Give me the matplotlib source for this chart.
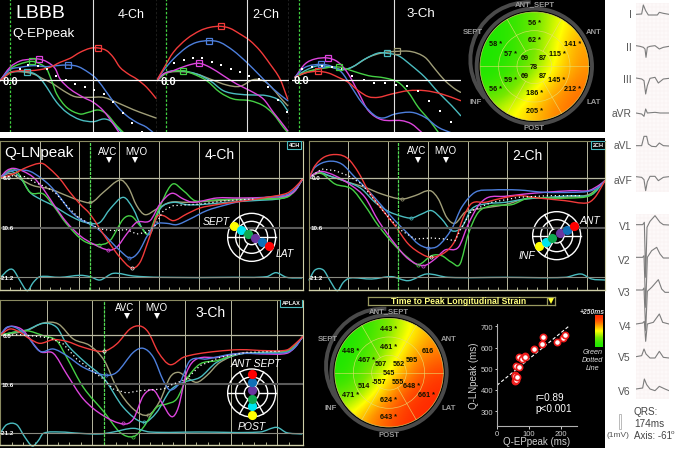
import math
import matplotlib
matplotlib.use("Agg")
import matplotlib.pyplot as plt
from matplotlib.colors import LinearSegmentedColormap
from matplotlib.patches import Circle, Arc, Rectangle, PathPatch
from matplotlib.path import Path

plt.rcParams['font.family'] = ['Liberation Sans', 'DejaVu Sans']

W, H = 677, 452

# ---------- top strain panels (positions, units: crop coordinates) ----------
a_red = [(0,245),(30,222),(60,215),(90,215),(120,212),(150,205),(180,190),(210,178),(240,160),(270,148),(295,147),(320,155),(340,175),(360,205),(385,225),(410,240),(440,265),(468,298)]
a_blue = [(0,245),(30,212),(60,205),(100,200),(140,203),(170,200),(205,198),(235,203),(265,220),(290,240),(320,280),(350,320),(380,350),(410,370),(440,385),(470,410)]
a_magenta = [(0,245),(30,205),(60,186),(90,181),(115,180),(140,188),(165,208),(180,240),(210,270),(250,295),(280,310),(310,335),(340,375),(360,405)]
a_green = [(0,245),(30,210),(60,195),(95,187),(120,195),(140,210),(155,245),(170,285),(200,325),(240,345),(265,340),(295,333),(320,345),(350,380),(375,405)]
a_teal = [(0,245),(30,222),(60,217),(85,218),(110,228),(130,250),(150,280),(170,310),(200,340),(240,362),(280,368),(310,360),(330,365),(350,385),(370,405)]
a_tan = [(0,245),(30,220),(60,218),(100,225),(130,240),(160,255),(190,275),(225,293),(270,295),(310,295),(350,310),(400,332),(440,347),(468,357)]
a_dots = [(60,210),(85,198),(115,200),(142,210),(168,230),(197,243),(226,256),(254,265),(282,273),(311,285),(340,310),(368,342),(397,372),(425,398)]
a_peaks = [(295,147,'red'),(203,198,'blue'),(116,180,'magenta'),(95,187,'green'),(82,218,'teal')]

b_red = [(470,245),(490,210),(520,160),(560,120),(600,95),(630,85),(662,82),(690,88),(720,105),(750,125),(780,155),(810,195),(840,240),(863,300)]
b_blue = [(470,245),(490,215),(520,180),(560,145),(590,130),(627,125),(660,130),(700,155),(740,190),(780,230),(820,270),(863,305)]
b_magenta = [(470,245),(490,225),(520,215),(560,200),(597,193),(630,205),(670,230),(710,255),(750,275),(790,300),(820,340),(840,365),(863,395)]
b_green = [(470,245),(500,222),(548,215),(580,225),(620,245),(660,280),(700,300),(750,305),(790,320),(820,345),(850,385),(863,400)]
b_teal = [(470,245),(500,220),(540,215),(590,225),(630,245),(670,275),(710,285),(760,288),(800,290),(840,305),(863,335)]
b_tan = [(470,245),(500,222),(545,218),(590,225),(630,240),(680,258),(720,262),(760,242),(790,245),(815,265),(840,295),(863,320)]
b_dots = [(522,192),(551,182),(579,178),(607,178),(635,188),(664,198),(692,210),(721,220),(748,230),(776,240),(805,265),(833,303),(861,340)]
b_peaks = [(662,82,'red'),(627,125,'blue'),(597,193,'magenta'),(548,215,'green')]

c_red = [(0,235),(30,222),(68,217),(100,222),(130,235),(160,250),(190,275),(220,293),(250,295),(290,285),(340,275),(390,275),(440,285),(497,305)]
c_blue = [(0,235),(30,205),(78,196),(110,202),(140,220),(170,265),(200,310),(240,350),(265,357),(300,345),(350,340),(390,355),(430,385),(470,402)]
c_magenta = [(0,235),(30,195),(60,180),(98,177),(130,190),(160,225),(190,280),(220,335),(260,362),(320,365),(350,375),(380,400)]
c_green = [(0,235),(30,220),(80,208),(131,204),(170,215),(220,230),(270,237),(310,250),(340,280),(370,325),(400,360),(430,400)]
c_teal = [(0,235),(30,215),(70,200),(110,205),(140,212),(170,205),(210,180),(250,162),(276,163),(310,170),(350,200),(390,235),(430,280),(470,320),(497,350)]
c_tan = [(0,235),(30,222),(70,210),(110,205),(140,212),(170,205),(220,175),(260,162),(306,157),(350,158),(390,175),(420,210),(450,245),(480,270),(497,280)]
c_dots = [(20,210),(50,205),(80,200),(110,203),(142,210),(172,230),(206,243),(238,252),(271,252),(304,257),(337,260),(369,276),(402,307),(435,337),(467,370)]
c_peaks = [(306,157,'tan'),(276,163,'teal'),(131,204,'green'),(98,177,'magenta'),(78,196,'blue'),(68,217,'red')]

# ---------- lower strain panels ----------
d_red = [(0,132),(40,120),(80,100),(125,88),(150,105),(180,135),(210,175),(240,210),(270,240),(300,285),(330,330),(360,370),(395,402),(420,385),(445,320),(470,250),(490,245),(520,260),(560,240),(600,222),(650,212),(700,205),(750,198),(800,190),(860,178),(885,160),(908,135)]
d_blue = [(0,132),(30,112),(60,108),(90,112),(120,130),(150,155),(180,190),(210,230),(240,255),(270,270),(300,290),(330,320),(360,350),(390,372),(415,355),(445,300),(470,270),(500,268),(530,272),(570,255),(620,230),(680,212),(740,198),(800,190),(860,182),(885,165),(908,135)]
d_magenta = [(0,132),(20,110),(40,103),(70,112),(100,130),(130,165),(160,210),(200,265),(240,305),(280,330),(325,348),(350,340),(380,300),(410,265),(450,260),(480,210),(515,178),(550,195),(580,205),(650,192),(720,192),(800,190),(860,185),(885,170),(908,135)]
d_green = [(0,132),(20,115),(40,105),(60,125),(90,175),(130,180),(160,215),(200,270),(250,320),(295,332),(330,320),(370,255),(395,247),(420,275),(445,300),(470,240),(515,152),(550,170),(585,200),(640,198),(720,195),(800,195),(860,190),(885,170),(908,135)]
d_teal = [(0,132),(30,112),(60,130),(90,175),(120,195),(160,215),(200,240),(240,260),(270,268),(300,265),(330,225),(370,190),(400,225),(425,280),(450,300),(480,225),(520,205),(560,212),(600,212),(680,205),(760,200),(850,192),(885,170),(908,135)]
d_tan = [(0,132),(30,118),(60,135),(100,155),(150,165),(200,185),(240,200),(275,205),(310,175),(360,138),(385,160),(410,215),(435,242),(470,225),(510,205),(560,205),(650,200),(760,195),(850,190),(885,170),(908,135)]
d_dots = [(0,132),(40,125),(75,128),(105,145),(140,160),(165,175),(200,215),(235,250),(270,270),(300,285),(340,290),(380,287),(410,300),(440,295),(465,275),(490,230),(520,215),(600,210),(680,200),(760,195)]
d_base = [(0,432),(25,408),(40,408),(60,440),(82,470),(100,445),(120,428),(180,430),(240,424),(270,428),(300,438),(340,418),(400,426),(480,430),(700,430),(800,428),(828,416),(860,430),(905,432)]
d_marks = [(270,205,'tan'),(270,268,'teal'),(297,332,'green'),(325,348,'magenta'),(388,372,'blue'),(395,402,'red')]

e_red = [(12,132),(30,95),(60,68),(100,62),(130,75),(160,115),(190,170),(230,225),(270,275),(310,330),(350,360),(380,370),(420,355),(450,320),(475,250),(500,208),(540,205),(580,195),(640,185),(700,192),(780,200),(845,207),(870,190),(900,140)]
e_blue = [(12,132),(30,100),(70,82),(110,90),(150,130),(190,170),(230,215),(270,260),(310,300),(340,330),(370,342),(400,335),(440,285),(470,220),(510,175),(560,168),(640,168),(720,175),(800,175),(850,172),(880,160),(900,140)]
e_magenta = [(12,132),(30,118),(50,112),(90,125),(140,155),(180,190),(220,260),(270,330),(310,375),(355,395),(390,375),(420,348),(460,340),(490,270),(520,215),(550,190),(600,187),(660,180),(720,175),(800,170),(850,170),(880,155),(900,140)]
e_green = [(12,132),(30,118),(50,118),(90,150),(140,165),(180,215),(220,275),(270,335),(310,372),(340,392),(380,365),(410,365),(440,385),(465,390),(490,300),(520,235),(560,215),(620,212),(670,192),(730,192),(800,192),(855,185),(880,160),(900,140)]
e_teal = [(12,132),(40,115),(80,128),(130,145),(170,165),(210,205),(250,232),(290,247),(320,252),(350,240),(380,230),(410,255),(440,290),(470,280),(500,225),(540,210),(600,205),(660,195),(730,190),(800,185),(860,182),(900,140)]
e_tan = [(12,132),(40,118),(80,128),(130,145),(180,160),(230,180),(290,195),(330,185),(375,170),(400,195),(425,250),(450,268),(480,235),(520,225),(600,212),(660,195),(730,192),(800,188),(855,180),(900,140)]
e_dots = [(12,132),(50,105),(90,110),(130,125),(170,150),(210,200),(250,250),(290,290),(330,315),(380,312),(420,315),(450,320),(470,280),(500,230),(560,205),(640,190),(730,185),(830,185)]
e_base = [(12,438),(30,408),(55,408),(75,440),(97,470),(115,445),(135,432),(200,435),(260,428),(310,440),(365,420),(430,430),(600,430),(780,430),(828,420),(860,435),(900,438)]
e_marks = [(292,195,'tan'),(318,252,'teal'),(338,392,'green'),(355,395,'magenta'),(368,342,'blue'),(378,370,'red')]

f_red = [(0,124),(30,105),(60,115),(90,135),(120,148),(160,137),(200,142),(250,160),(310,172),(350,150),(390,105),(420,96),(445,115),(475,175),(510,212),(550,190),(590,180),(650,172),(720,167),(800,170),(860,168),(885,150),(908,128)]
f_blue = [(0,124),(20,100),(45,100),(80,125),(120,172),(160,165),(200,185),(250,220),(313,243),(350,235),(400,175),(430,163),(460,190),(490,260),(510,288),(540,265),(570,200),(620,195),(700,180),(800,178),(860,175),(885,160),(908,128)]
f_magenta = [(0,124),(20,102),(40,97),(70,110),(120,172),(160,178),(200,240),(250,315),(310,365),(370,390),(400,375),(430,305),(460,288),(485,325),(515,368),(535,340),(560,235),(590,195),(650,190),(720,178),(800,180),(860,178),(885,160),(908,128)]
f_green = [(0,124),(40,115),(80,110),(130,125),(170,140),(200,190),(250,280),(313,355),(360,415),(400,428),(430,400),(470,340),(500,330),(530,315),(560,255),(600,210),(650,200),(720,178),(800,178),(860,172),(885,155),(908,128)]
f_teal = [(0,124),(40,115),(80,108),(130,88),(170,100),(200,150),(250,200),(313,255),(370,340),(430,385),(470,355),(510,290),(550,265),(600,250),(650,205),(720,180),(800,175),(860,172),(885,155),(908,128)]
f_tan = [(0,124),(40,118),(80,110),(130,87),(175,90),(220,135),(270,155),(313,200),(350,280),(400,345),(445,363),(480,320),(510,250),(535,235),(560,250),(590,265),(620,245),(660,205),(720,180),(800,175),(860,170),(885,155),(908,128)]
f_dots = [(0,124),(60,122),(110,127),(150,132),(190,150),(230,195),(270,225),(310,255),(340,285),(380,297),(420,290),(460,287),(490,285),(520,270),(560,255),(600,215),(660,190),(740,175),(840,172)]
f_base = [(0,418),(20,392),(50,392),(75,430),(97,456),(115,440),(130,418),(180,414),(240,418),(300,420),(340,414),(400,403),(450,414),(600,414),(780,414),(830,400),(860,416),(905,420)]
f_marks = [(313,172,'red'),(318,243,'blue'),(370,388,'magenta'),(400,428,'green'),(432,385,'teal'),(445,363,'tan')]

# ---------- segment dots on small bullseyes ----------
seg_colors = ['yellow', 'cyan', 'seggreen', 'purple', 'segblue', 'segred']
d_seg_x = [702, 724, 743, 766, 786, 808]
d_seg_y = [277, 288, 300, 313, 325, 337]
e_seg_x = [701, 722, 741, 764, 785, 806]
e_seg_y = [336, 323, 312, 298, 288, 275]
f_seg_x = [755, 755, 755, 755, 755, 755]
f_seg_y = [362, 336, 315, 288, 265, 241]

# ---------- bullseye maps ----------
ep_grid = [[0.00,0.05,0.20,0.42,0.62],
           [0.00,0.05,0.22,0.50,0.72],
           [0.00,0.05,0.25,0.52,0.74],
           [0.05,0.20,0.50,0.70,0.82],
           [0.35,0.50,0.65,0.78,0.85]]
ln_grid = [[0.00,0.05,0.25,0.50,0.70],
           [0.00,0.10,0.35,0.65,0.80],
           [0.00,0.20,0.50,0.80,0.95],
           [0.15,0.40,0.75,0.95,1.00],
           [0.50,0.75,0.90,1.00,1.00]]
ep_labels = ['56 *','62 *','58 *','141 *','57 *','69','87','115 *','78','59 *','69','87','145 *','56 *','212 *','186 *','205 *']
ep_x = [718,718,603,833,648,689,744,787,717,648,689,744,786,603,832,718,718]
ep_y = [70,122,135,135,163,176,176,163,202,240,228,228,240,268,268,281,334]
ln_labels = ['443 *','461 *','448 *','616','467 *','507','562','595','545','514','-557','555','648 *','471 *','661 *','624 *','643 *']
ln_x = [252,252,137,367,186,226,280,320,252,177,222,280,320,137,365,252,252]
ln_y = [113,167,180,180,207,218,218,207,245,285,273,273,285,312,312,325,378]
wall_names = ['ANT_SEPT','SEPT','ANT','INF','LAT','POST']
ep_wall_x = [718,533,897,542,895,718]
ep_wall_y = [15,97,97,306,306,387]
ln_wall_x = [252,67,432,78,430,252]
ln_wall_y = [60,142,142,350,350,431]

# ---------- scatter ----------
ep_peak = [56,58,56,57,59,62,69,69,78,87,87,115,141,145,186,205,212]
ln_peak = [443,448,471,467,514,461,507,557,545,562,555,595,616,648,624,643,661]
fit_x = [0, 224]
fit_y = [422, 700]
scatter_xticks = [0, 100, 200]
scatter_yticks = [300, 400, 500, 600, 700]

# ---------- ECG ----------
ecg_lead_names_1 = ['I','II','III','aVR','aVL','aVF']
ecg_label_y_1 = [45,143,240,342,438,543]
ecg_I = [(108,46),(125,45),(130,18),(137,35),(145,48),(165,48),(172,48),(178,40),(190,43),(207,46)]
ecg_II = [(108,140),(120,142),(130,145),(135,150),(138,175),(142,145),(150,142),(165,140),(178,150),(190,145),(207,142)]
ecg_III = [(108,237),(125,240),(132,245),(137,285),(142,260),(150,238),(165,235),(175,252),(190,240),(207,238)]
ecg_aVR = [(108,342),(125,345),(132,352),(137,330),(142,342),(165,340),(180,342),(207,342)]
ecg_aVL = [(108,440),(125,440),(132,412),(140,412),(145,435),(155,442),(168,443),(178,432),(190,440),(207,441)]
ecg_aVF = [(108,533),(125,535),(132,542),(137,575),(142,548),(150,532),(165,532),(175,545),(190,535),(207,533)]
ecg_lead_names_2 = ['V1','V2','V3','V4','V5','V6']
ecg_label_y_2 = [37,138,235,335,430,530]
ecg_V1 = [(108,32),(128,32),(133,25),(137,190),(141,40),(150,22),(165,5),(180,25),(190,32),(207,33)]
ecg_V2 = [(108,130),(128,130),(132,125),(137,280),(142,130),(155,110),(170,100),(180,120),(190,132),(207,132)]
ecg_V3 = [(108,228),(128,228),(132,222),(137,350),(142,232),(155,220),(175,197),(185,225),(195,235),(207,235)]
ecg_V4 = [(108,330),(128,327),(133,322),(137,382),(142,330),(160,325),(178,300),(188,325),(207,330)]
ecg_V5 = [(108,428),(125,425),(132,405),(138,420),(150,432),(165,432),(178,412),(190,430),(207,432)]
ecg_V6 = [(108,525),(128,522),(133,495),(140,512),(150,525),(165,530),(178,517),(195,525),(207,530)]

# ---------- styles ----------
COL = dict(red='#f23a3a', blue='#4d7fdc', magenta='#dd45dd', green='#45d045', teal='#4abcc0',
           tan='#a09e78', yellow='#ffff00', cyan='#00e5ee', seggreen='#10a850', purple='#6a35a0',
           segblue='#1070b8', segred='#ff0000')
PANEL = '#000000'
GRID = '#b8b8a0'
FRAME = '#cfcfa8'

fig = plt.figure(figsize=(W/100, H/100), dpi=100, facecolor='white')


def crop_axes(ox, oy, x0, y0, x1, y1, z=3.0, **kw):
    ax = fig.add_axes([(ox + x0/z)/W, 1 - (oy + y1/z)/H, (x1-x0)/z/W, (y1-y0)/z/H], **kw)
    ax.set_xlim(x0, x1)
    ax.set_ylim(y1, y0)
    ax.set_xticks([]); ax.set_yticks([])
    ax.set_facecolor(PANEL)
    for s in ax.spines.values():
        s.set_visible(False)
    return ax


def curve(ax, pts, color, lw=1.0, clip=True):
    """Draw the read points as a smooth stroke: one Bezier segment between neighbours."""
    xs, ys = zip(*pts)
    n = len(xs)
    slope = []
    for i in range(n):
        a, b = max(i-1, 0), min(i+1, n-1)
        slope.append((ys[b]-ys[a])/(xs[b]-xs[a]))
    verts, codes = [(xs[0], ys[0])], [Path.MOVETO]
    for i in range(n-1):
        h = (xs[i+1]-xs[i])/3
        verts += [(xs[i]+h, ys[i]+slope[i]*h), (xs[i+1]-h, ys[i+1]-slope[i+1]*h), (xs[i+1], ys[i+1])]
        codes += [Path.CURVE4]*3
    patch = PathPatch(Path(verts, codes), fc='none', ec=COL.get(color, color), lw=lw, capstyle='round', joinstyle='round')
    ax.add_patch(patch)
    patch.set_clip_on(clip)


def poly(ax, pts, color, lw):
    xs, ys = zip(*pts)
    ax.plot(xs, ys, color=color, lw=lw, solid_joinstyle='round')


# black backdrop
bg = crop_axes(0, 0, 0, 0, 605, 449, z=1.0)
bg.add_patch(Rectangle((0, 133), 605, 6, color='white', lw=0))

# ---------- top panels ----------
def top_panel(ax, red, blue, magenta, green, teal, tan, dots, peaks, vline, base):
    ax.axhline(base, color='white', lw=0.9)
    ax.axvline(vline, color='#e0e0e0', lw=0.8)
    for name, pts in (('tan', tan), ('teal', teal), ('green', green), ('magenta', magenta), ('blue', blue), ('red', red)):
        curve(ax, pts, name, 1.0)
    xs, ys = zip(*dots)
    ax.plot(xs, ys, ls='none', marker='s', ms=1.9, color='white', mew=0)
    for x, y, c in peaks:
        ax.plot([x], [y], marker='s', ms=4.0, mfc='none', mec=COL[c], mew=0.9)


axA = crop_axes(0, 0, 0, 0, 471, 399)
axB = crop_axes(0, 0, 471, 0, 868, 399)
axC = crop_axes(295, 0, -8, 0, 497, 399)
top_panel(axA, a_red, a_blue, a_magenta, a_green, a_teal, a_tan, a_dots, a_peaks, 278, 244)
top_panel(axB, b_red, b_blue, b_magenta, b_green, b_teal, b_tan, b_dots, b_peaks, 742, 244)
top_panel(axC, c_red, c_blue, c_magenta, c_green, c_teal, c_tan, c_dots, c_peaks, 298, 244)
axA.axvline(30, color='#40d040', lw=0.9, ls=(0, (2, 1.5)))
axA.axvline(470, color='#e0e0d0', lw=0.9, ls=(0, (2, 1.5)))
axB.axvline(498, color='#40d040', lw=0.9, ls=(0, (2, 1.5)))
axB.axvline(866, color='white', lw=0.9, ls=(0, (2, 1.5)))
axC.axvline(13, color='#40d040', lw=0.9, ls=(0, (2, 1.5)))
axA.text(45, 42, 'LBBB', color='white', fontsize=14, va='center', ha='left')
axA.text(37, 103, 'Q-EPpeak', color='white', fontsize=9.7, va='center', ha='left')
axA.text(393, 45, '4-Ch', color='white', fontsize=9, va='center', ha='center')
axB.text(797, 45, '2-Ch', color='white', fontsize=9, va='center', ha='center')
axC.text(376, 42, '3-Ch', color='white', fontsize=9.5, va='center', ha='center')
axA.text(32, 247, '0.0', color='white', fontsize=8, fontweight='bold', va='center', ha='center')
axB.text(504, 247, '0.0', color='white', fontsize=8, fontweight='bold', va='center', ha='center')
axC.text(18, 244, '0.0', color='white', fontsize=8, fontweight='bold', va='center', ha='center')

# ---------- lower panels ----------
def mini_bull(ax, cx, cy, xs, ys):
    for r in (72, 48, 22):
        ax.add_patch(Circle((cx, cy), r, fc='none', ec='white', lw=1.0))
    for deg in (0, 60, 120, 180, 240, 300):
        a = math.radians(deg)
        ax.plot([cx + 22*math.cos(a), cx + 72*math.cos(a)], [cy + 22*math.sin(a), cy + 72*math.sin(a)], color='white', lw=1.0)
    for x, y, c in zip(xs, ys, seg_colors):
        ax.plot([x], [y], marker='o', ms=6.6, color=COL[c], mew=0, zorder=6)


def low_panel(ax, red, blue, magenta, green, teal, tan, dots, base, marks, grid_x, tick_x, y0, y1, y2, green_x):
    ax.set_xticks(grid_x)
    ax.set_xticks(tick_x, minor=True)
    ax.tick_params(axis='x', which='major', length=0, labelbottom=False)
    ax.tick_params(axis='x', which='minor', length=2, width=0.6, color=FRAME, direction='in', labelbottom=False)
    ax.grid(axis='x', which='major', color=GRID, lw=0.7)
    ax.set_axisbelow(True)
    ax.axhline(y0, color=GRID, lw=0.9)
    ax.axhline(y1, color='#5a5a5a', lw=1.5)
    ax.axhline(y2, color='#8a8a80', lw=0.8)
    ax.axvline(green_x, color='#55dd55', lw=0.9, ls=(0, (2.5, 0.8)))
    for s in ax.spines.values():
        s.set_visible(True); s.set_color('#8a8a60'); s.set_linewidth(0.8)
    ax.spines['bottom'].set_color(FRAME); ax.spines['bottom'].set_linewidth(1.0)
    ax.spines['right'].set_color(FRAME)
    for name, pts in (('tan', tan), ('teal', teal), ('green', green), ('magenta', magenta), ('blue', blue), ('red', red)):
        curve(ax, pts, name, 1.0)
    xs, ys = zip(*dots)
    ax.plot(xs, ys, ls=(0, (1, 2.2)), color='white', lw=0.9)
    curve(ax, base, 'teal', 1.0, clip=False)
    for x, y, c in marks:
        ax.plot([x], [y], marker='o', ms=2.3, mfc='none', mec=COL[c] if c != 'red' else 'white', mew=0.5)
    x0 = ax.get_xlim()[0]
    for y, s in ((y0, '0.0'), (y1, '10.6'), (y2, '-21.2')):
        ax.text(x0 + 22, y, s, color='white', fontsize=4.5, fontweight='bold', ha='center', va='center')


GX_D = [120, 238, 358, 478, 598, 718, 838]
GX_E = [130, 250, 370, 488, 607, 727, 845]
GX_F = [140, 277, 416, 554, 692, 831]
TX_D = [30, 60, 90, 150, 180, 210, 268, 298, 328, 388, 418, 448, 508, 538, 568, 628, 658, 688, 748, 778, 808, 868]
TX_E = [42, 72, 102, 160, 190, 220, 280, 310, 340, 400, 430, 460, 518, 548, 578, 637, 667, 697, 757, 787, 817, 875]
TX_F = [35, 70, 105, 175, 208, 243, 312, 347, 382, 451, 485, 520, 589, 623, 658, 727, 762, 797, 866]

axD = crop_axes(0, 135, 0, 21, 908, 467)
low_panel(axD, d_red, d_blue, d_magenta, d_green, d_teal, d_tan, d_dots, d_base, d_marks, GX_D, TX_D, 132, 281, 430, 271)
axE = crop_axes(305, 135, 12, 21, 900, 467)
low_panel(axE, e_red, e_blue, e_magenta, e_green, e_teal, e_tan, e_dots, e_base, e_marks, GX_E, TX_E, 132, 281, 430, 280)
axF = crop_axes(0, 295, 0, 17, 908, 452)
low_panel(axF, f_red, f_blue, f_magenta, f_green, f_teal, f_tan, f_dots, f_base, f_marks, GX_F, TX_F, 124, 271, 416, 313)


def tag(ax, x, y, s):
    ax.text(x, y, s, color='white', fontsize=4, fontweight='bold', ha='center', va='center',
            bbox=dict(boxstyle='square,pad=0.25', fc='black', ec=COL['teal'], lw=0.8), zorder=8, clip_on=True)


tag(axD, 883, 32, '4CH')
tag(axE, 880, 32, '2CH')
tag(axF, 873, 26, 'APLAX')

for ax, cx, cy, xs, ys in ((axD, 755, 310, d_seg_x, d_seg_y), (axE, 755, 305, e_seg_x, e_seg_y), (axF, 755, 297, f_seg_x, f_seg_y)):
    mini_bull(ax, cx, cy, xs, ys)

axD.text(14, 55, 'Q-LNpeak', color='white', fontsize=11, ha='left', va='center')
axD.text(658, 60, '4-Ch', color='white', fontsize=10, ha='center', va='center')
axE.text(667, 62, '2-Ch', color='white', fontsize=10, ha='center', va='center')
axF.text(632, 55, '3-Ch', color='white', fontsize=10, ha='center', va='center')
for ax, ax_x, mv_x, ty, my, atx, mtx in ((axD, 328, 406, 50, 77, 323, 410),
                                         (axE, 338, 422, 47, 78, 335, 422),
                                         (axF, 380, 471, 40, 67, 373, 470)):
    ax.text(atx, ty, 'AVC', color='white', fontsize=7, ha='center', va='center')
    ax.text(mtx, ty, 'MVO', color='white', fontsize=7, ha='center', va='center')
    ax.plot([ax_x, mv_x], [my, my], ls='none', marker='v', ms=4.3, color='white', mew=0)
axD.text(648, 262, 'SEPT', color='white', fontsize=7.5, style='italic', ha='center', va='center')
axD.text(853, 358, 'LAT', color='white', fontsize=7.5, style='italic', ha='center', va='center')
axE.text(855, 257, 'ANT', color='white', fontsize=7.5, style='italic', ha='center', va='center')
axE.text(665, 363, 'INF', color='white', fontsize=7.5, style='italic', ha='center', va='center')
axF.text(766, 208, 'ANT SEPT', color='white', fontsize=7.5, style='italic', ha='center', va='center')
axF.text(755, 397, 'POST', color='white', fontsize=7.5, style='italic', ha='center', va='center')

# ---------- bullseye maps ----------
strain_cmap = LinearSegmentedColormap.from_list('t2p', [(0, '#1ee600'), (0.25, '#7ae800'), (0.5, '#ffff00'), (0.75, '#ff9000'), (1, '#ff2a00')])


def bullseye(ax, cx, cy, grid, labels, xs, ys, wx, wy, fs):
    R = 163
    im = ax.imshow(grid, cmap=strain_cmap, vmin=0, vmax=1, interpolation='bicubic',
                   extent=(cx-R, cx+R, cy+R, cy-R), aspect='auto', zorder=1)
    im.set_clip_path(Circle((cx, cy), R, transform=ax.transData))
    line_c = '#e8e070'
    for r in (R, 107, 52):
        ax.add_patch(Circle((cx, cy), r, fc='none', ec=line_c, lw=0.5, alpha=0.8, zorder=2))
    ax.plot([cx-R, cx+R], [cy, cy], color=line_c, lw=0.5, alpha=0.8, zorder=2)
    for deg in (60, 120, 240, 300):
        a = math.radians(deg)
        ax.plot([cx + 52*math.cos(a), cx + R*math.cos(a)], [cy + 52*math.sin(a), cy + R*math.sin(a)], color=line_c, lw=0.5, alpha=0.8, zorder=2)
    ax.add_patch(Circle((cx, cy), 173, fc='none', ec='#4a4a4a', lw=2.8, zorder=3))
    for s, x, y in zip(labels, xs, ys):
        ax.text(x, y, s, color='#111100', fontsize=fs, fontweight='bold', ha='center', va='center', zorder=4)
    for s, x, y in zip(wall_names, wx, wy):
        ax.text(x, y, s, color='#9a9a9a', fontsize=5.6, fontweight='bold', ha='center', va='center', zorder=4)


axG = crop_axes(295, 0, 500, 0, 930, 399)
axG.patch.set_alpha(0)
bullseye(axG, 718, 202, ep_grid, ep_labels, ep_x, ep_y, ep_wall_x, ep_wall_y, 5.2)
axG.add_patch(Arc((698, 182), 344, 344, theta1=138, theta2=273, ec='#4a4a4a', lw=2.8, zorder=3))
axG.set_xlim(500, 930); axG.set_ylim(399, 0)

axH = crop_axes(305, 292, 30, 40, 470, 450)
axH.patch.set_alpha(0)
bullseye(axH, 252, 245, ln_grid, ln_labels, ln_x, ln_y, ln_wall_x, ln_wall_y, 5.2)
axH.add_patch(Arc((235, 225), 344, 344, theta1=138, theta2=273, ec='#4a4a4a', lw=2.8, zorder=3))
axH.set_xlim(30, 470); axH.set_ylim(450, 40)

# ---------- title bar ----------
axT = crop_axes(305, 292, 190, 17, 750, 43)
for s in axT.spines.values():
    s.set_visible(True); s.set_color('#9a9a60'); s.set_linewidth(0.9)
axT.text(462, 30, 'Time to Peak Longitudinal Strain', color='#ffff80', fontsize=6.2, fontweight='bold', ha='center', va='center')
axT.axvline(727, color='#9a9a60', lw=0.9)
axT.plot([738], [30], marker='v', ms=4.5, color='#ffff30', mew=0)

# ---------- scatter ----------
axS = fig.add_axes([497/W, 1 - 427/H, 80/W, 102/H])
axS.set_facecolor('none')
axS.set_xlim(0, 250)
axS.set_ylim(230, 711)
for s in ('top', 'right'):
    axS.spines[s].set_visible(False)
for s in ('left', 'bottom'):
    axS.spines[s].set_color('#b0b0b0'); axS.spines[s].set_linewidth(0.8)
axS.set_xticks(scatter_xticks); axS.set_yticks(scatter_yticks)
axS.tick_params(colors='#d0d0d0', labelsize=5.5, length=1.8, width=0.7, pad=1)
axS.set_xlabel('Q-EPpeak (ms)', color='#d0d0d0', fontsize=7.0, labelpad=-0.5)
axS.set_ylabel('Q-LNpeak (ms)', color='#d0d0d0', fontsize=7.0, labelpad=1)
axS.plot(fit_x, fit_y, color='white', lw=0.8, ls=(0, (3, 2)), zorder=2)
axS.scatter(ep_peak, ln_peak, s=20, facecolor='white', edgecolor='#ee1c1c', linewidth=1.2, zorder=3)
axS.text(120, 366, 'r=0.89', color='white', fontsize=7.2, ha='left', va='center')
axS.text(120, 316, 'p<0.001', color='white', fontsize=7.2, ha='left', va='center')

# ---------- colour scale ----------
axB2 = crop_axes(305, 292, 870, 73, 892, 168)
axB2.imshow([[1.0], [0.75], [0.5], [0.25], [0.0]], cmap=strain_cmap, vmin=0, vmax=1, aspect='auto', interpolation='bicubic', extent=(870, 892, 168, 73))
axK = crop_axes(305, 292, 800, 50, 905, 250)
axK.patch.set_alpha(0)
axK.text(860, 62, '+250ms', color='#e0e0e0', fontsize=4.9, style='italic', fontweight='bold', ha='center', va='center')
axK.text(862, 182, 'Green', color='#e0e0e0', fontsize=5.2, style='italic', ha='center', va='center')
axK.text(862, 206, 'Dotted', color='#e0e0e0', fontsize=5.2, style='italic', ha='center', va='center')
axK.text(862, 230, 'Line', color='#e0e0e0', fontsize=5.2, style='italic', ha='center', va='center')

# ---------- ECG column ----------
def ecg_axes(oy, y0, y1):
    ax = crop_axes(600, oy, 108, y0, 207, y1)
    ax.set_facecolor('#fdf9f9')
    ax.set_xticks(range(108, 208, 12))
    ax.set_yticks(range(y0, y1, 12))
    ax.tick_params(length=0, labelbottom=False, labelleft=False)
    ax.grid(color='#f7eeee', lw=0.3)
    ax.set_axisbelow(True)
    return ax


ax1 = ecg_axes(0, 12, 578)
for pts in (ecg_I, ecg_II, ecg_III, ecg_aVR, ecg_aVL, ecg_aVF):
    poly(ax1, pts, '#7d7d7d', 0.8)
ax2 = ecg_axes(215, 0, 555)
for pts in (ecg_V1, ecg_V2, ecg_V3, ecg_V4, ecg_V5, ecg_V6):
    poly(ax2, pts, '#7d7d7d', 0.8)

axL = fig.add_axes([0, 0, 1, 1])
axL.set_xlim(0, W); axL.set_ylim(H, 0); axL.axis('off'); axL.patch.set_alpha(0)
for s, y in zip(ecg_lead_names_1, ecg_label_y_1):
    axL.text(632, y/3, s, color='#555555', fontsize=7.4, ha='right', va='center')
for s, y in zip(ecg_lead_names_2, ecg_label_y_2):
    axL.text(631, 215 + y/3, s, color='#555555', fontsize=7.4, ha='right', va='center')
axL.add_patch(Rectangle((618.5, 415), 2.5, 15, fc='white', ec='#b0b0b0', lw=0.6))
axL.text(629, 436, '(1mV)', color='#555555', fontsize=6, ha='right', va='center')
axL.text(634, 412, 'QRS:', color='#444444', fontsize=7.2, ha='left', va='center')
axL.text(634, 424, '174ms', color='#444444', fontsize=7.2, ha='left', va='center')
axL.text(634, 436, 'Axis: -61', color='#444444', fontsize=7.0, ha='left', va='center')
axL.text(671, 433, 'o', color='#444444', fontsize=4.6, ha='left', va='center')

fig.savefig('out.png', dpi=100, facecolor='white')
